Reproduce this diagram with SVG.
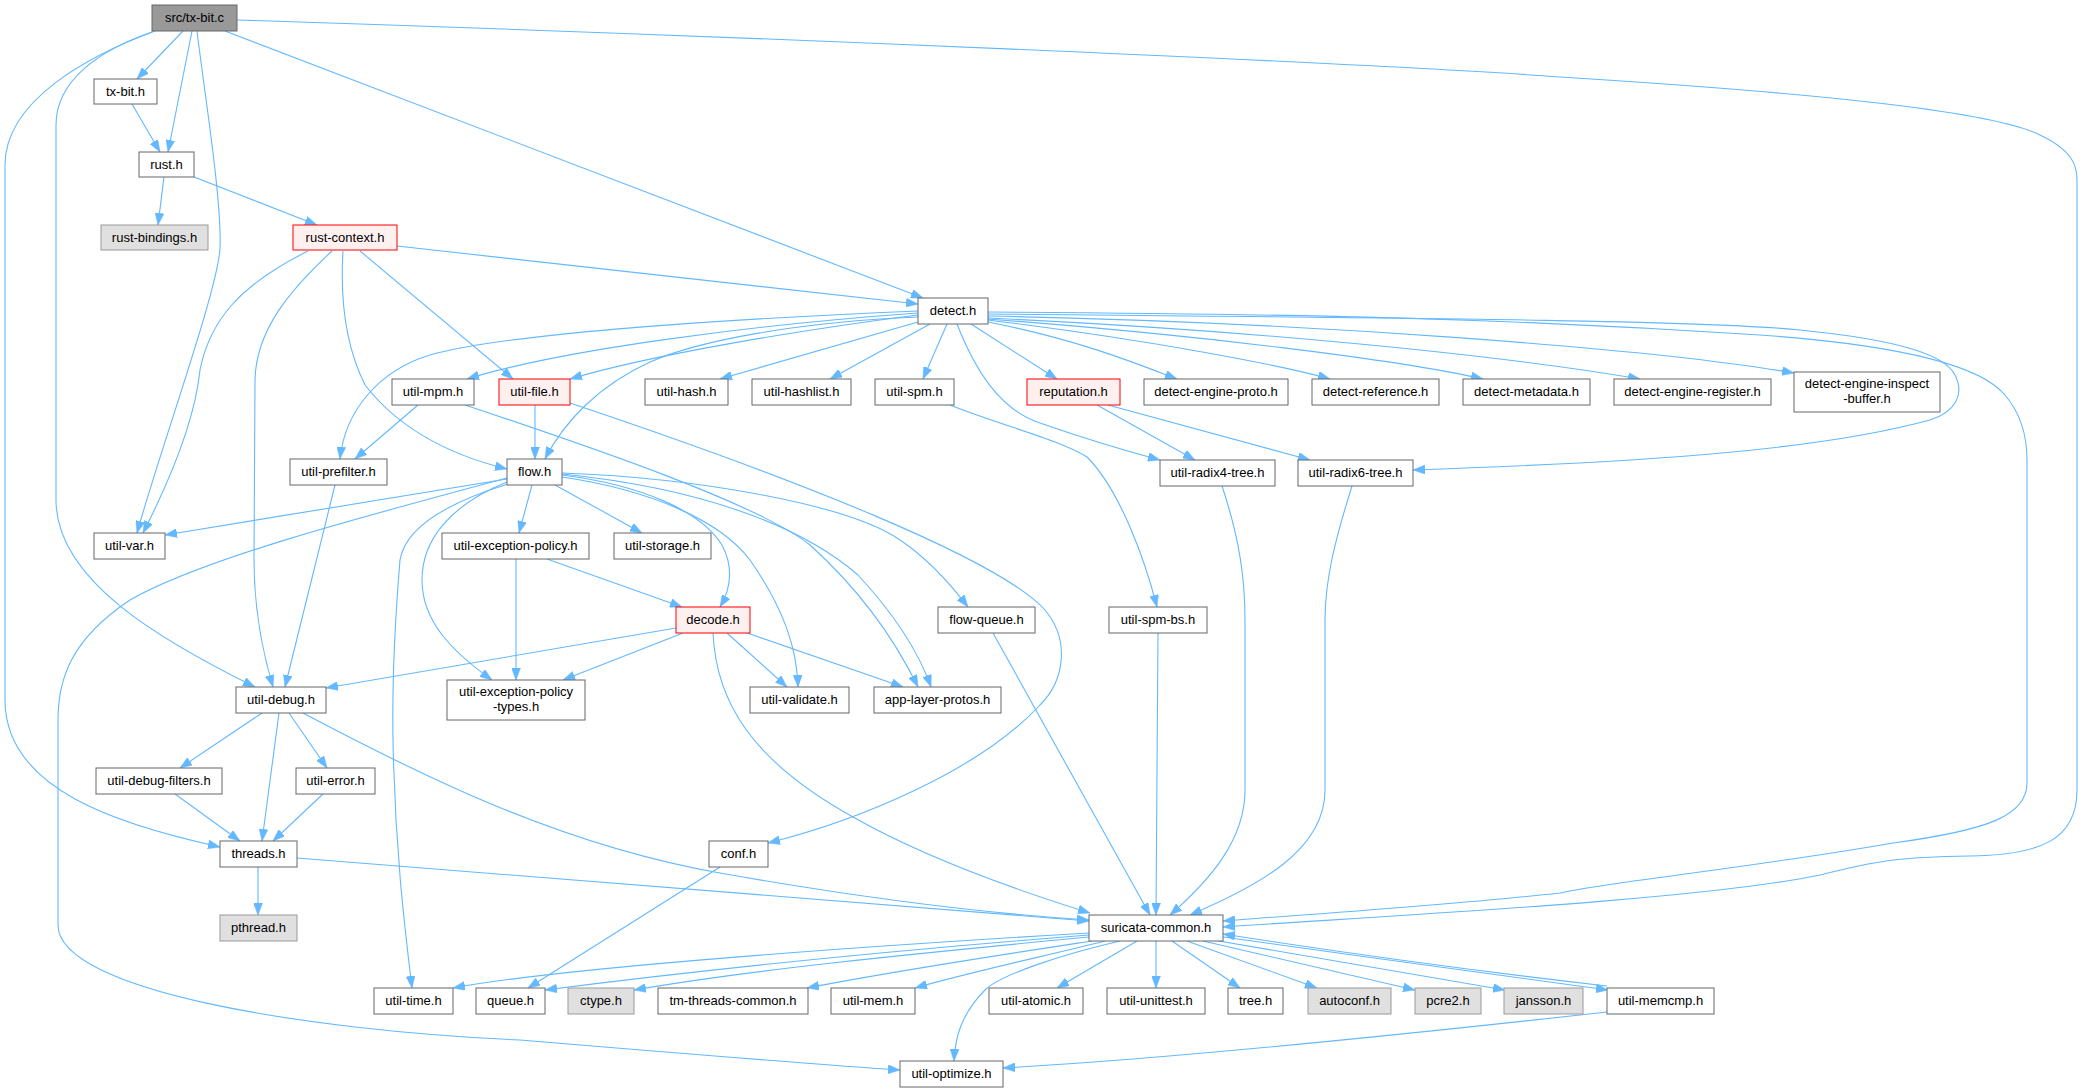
<svg xmlns="http://www.w3.org/2000/svg" width="2087" height="1092" viewBox="0 0 2087 1092">
<style>
rect{fill:#ffffff;stroke:#666666;stroke-width:1}
.g rect{fill:#e0e0e0;stroke:#999999}
.r rect{fill:#fff0f0;stroke:#ff0000}
.root rect{fill:#999999;stroke:#666666}
text{font-family:"Liberation Sans",Arial,Helvetica,sans-serif;font-size:13px;fill:#000000;text-anchor:middle}
#edges path{fill:none;stroke:#63b8ff;stroke-width:1.1;marker-end:url(#arr)}
</style>
<defs>
<marker id="arr" viewBox="0 0 12 9" markerWidth="12" markerHeight="9" refX="12" refY="4.5" orient="auto" markerUnits="userSpaceOnUse">
<path d="M0,0 L12,4.5 L0,9 Z" fill="#63b8ff" stroke="#63b8ff" stroke-width="0.5"/>
</marker>
</defs>
<rect x="0" y="0" width="2087" height="1092" style="fill:#ffffff;stroke:none"/>
<g id="edges">
<!-- src/tx-bit.c -->
<path d="M183,31 L137,79"/>
<path d="M192,31 L168,152"/>
<path d="M197,31 C204,90 222,200 220,248 C218,290 160,450 137,533"/>
<path d="M225,31 L923,298"/>
<path d="M237,20 C800,38 1400,65 1560,77 C1800,92 1990,110 2040,135 C2072,150 2077,165 2077,180 L2077,790 C2077,840 2040,855 1970,856 C1900,857 1880,860 1820,875 C1700,900 1400,915 1223,927"/>
<path d="M155,31 C90,55 5,100 5,165 L5,700 C5,790 120,825 220,847"/>
<path d="M152,32 C100,50 56,80 56,125 L56,500 C56,580 160,640 255,687"/>
<!-- tx-bit.h, rust.h -->
<path d="M132,104 L160,152"/>
<path d="M164,177 L158,225"/>
<path d="M194,177 L317,225"/>
<!-- rust-context.h -->
<path d="M397,246 L918,304"/>
<path d="M360,251 L513,379"/>
<path d="M343,251 C340,300 345,345 365,385 C400,430 450,455 507,469"/>
<path d="M332,251 C290,290 256,330 255,380 L254,560 C254,610 262,650 273,687"/>
<path d="M308,251 C240,285 210,320 200,370 C195,420 170,480 143,533"/>
<!-- detect.h -->
<path d="M918,311 C700,320 500,335 430,355 C380,370 345,410 340,459"/>
<path d="M918,313 C750,325 560,350 467,379"/>
<path d="M918,315 C800,330 650,355 570,379"/>
<path d="M918,317 C800,322 700,340 650,362 C600,385 565,420 545,459"/>
<path d="M918,322 L720,379"/>
<path d="M930,324 L830,379"/>
<path d="M947,324 L923,379"/>
<path d="M971,324 L1057,379"/>
<path d="M988,322 C1080,340 1140,365 1177,379"/>
<path d="M988,320 C1150,340 1280,365 1330,379"/>
<path d="M988,319 C1200,335 1400,360 1483,379"/>
<path d="M988,318 C1250,330 1500,355 1640,379"/>
<path d="M988,316 C1300,322 1650,348 1794,373"/>
<path d="M988,314 C1400,318 1700,320 1800,330 C1900,340 1945,355 1955,375 C1965,395 1955,412 1930,420 C1820,450 1650,462 1413,470"/>
<path d="M988,312 C1300,314 1500,318 1760,335 C1900,345 1980,365 2005,395 C2022,415 2027,440 2027,460 L2027,783 C2027,815 1990,830 1893,843 C1750,868 1600,883 1560,893 C1450,905 1300,915 1223,921"/>
<path d="M957,324 C975,370 1000,410 1040,423 C1080,437 1130,452 1160,460"/>
<!-- second level -->
<path d="M418,405 L355,459"/>
<path d="M465,405 C600,450 760,505 810,545 C860,590 895,640 918,687"/>
<path d="M535,405 L535,459"/>
<path d="M570,403 C800,480 1000,560 1045,610 C1070,640 1065,680 1040,705 C980,770 860,820 768,843"/>
<path d="M950,405 C1000,425 1060,440 1087,457 C1120,490 1145,560 1157,607"/>
<path d="M1097,405 L1195,460"/>
<path d="M1108,405 L1310,460"/>
<path d="M335,485 L285,687"/>
<!-- flow.h -->
<path d="M507,479 L165,535"/>
<path d="M532,485 L519,533"/>
<path d="M555,485 L642,533"/>
<path d="M562,475 C640,485 700,510 722,545 C735,570 730,590 720,607"/>
<path d="M562,477 C650,490 720,520 750,560 C785,610 797,650 798,687"/>
<path d="M562,474 C700,488 800,525 858,575 C895,615 918,650 931,687"/>
<path d="M562,473 C700,478 850,505 900,540 C930,560 955,590 968,607"/>
<path d="M507,482 C450,505 422,540 422,580 C422,620 450,650 492,680"/>
<path d="M508,484 C440,505 405,530 400,560 C395,620 392,680 393,740 C395,850 405,930 412,988"/>
<path d="M507,478 C350,520 200,560 130,600 C70,640 58,680 58,720 L58,925 C58,990 300,1030 520,1040 C700,1055 820,1065 900,1070"/>
<!-- util-exception-policy.h, decode.h -->
<path d="M547,559 L682,607"/>
<path d="M516,559 L516,680"/>
<path d="M676,628 L326,688"/>
<path d="M683,633 L563,680"/>
<path d="M727,633 L787,687"/>
<path d="M747,633 L903,687"/>
<path d="M713,633 C716,700 750,760 853,817 C920,855 1000,885 1090,913"/>
<!-- into suricata-common.h -->
<path d="M993,633 L1150,915"/>
<path d="M1158,633 L1156,915"/>
<path d="M1222,486 C1240,540 1245,580 1245,620 L1245,790 C1245,840 1210,880 1170,915"/>
<path d="M1352,486 C1335,540 1325,580 1325,620 L1325,790 C1325,850 1260,885 1190,915"/>
<!-- util-debug.h -->
<path d="M262,713 L180,768"/>
<path d="M279,713 L262,841"/>
<path d="M289,713 L327,768"/>
<path d="M303,713 C420,775 560,845 720,873 C850,896 980,913 1089,920"/>
<path d="M175,794 L240,841"/>
<path d="M323,794 L273,841"/>
<path d="M258,867 L258,915"/>
<path d="M297,858 L1089,921"/>
<path d="M720,867 L528,988"/>
<!-- suricata-common.h out -->
<path d="M1089,933 C800,950 550,970 453,988"/>
<path d="M1089,935 C900,950 700,970 545,990"/>
<path d="M1089,937 C900,955 750,970 634,990"/>
<path d="M1092,941 C1000,955 900,970 807,988"/>
<path d="M1105,941 C1050,955 970,972 915,988"/>
<path d="M1120,941 C1060,955 1000,975 985,990 C960,1015 955,1040 954,1061"/>
<path d="M1137,941 L1057,988"/>
<path d="M1156,941 L1156,988"/>
<path d="M1172,941 L1240,988"/>
<path d="M1187,941 L1317,988"/>
<path d="M1203,941 L1415,990"/>
<path d="M1213,940 L1505,990"/>
<path d="M1223,937 C1350,955 1500,975 1608,990"/>
<path d="M1607,986 C1450,968 1300,946 1223,934"/>
<path d="M1607,1012 C1400,1035 1150,1060 1003,1068"/>
</g>
<g id="n_src" class="root"><rect x="152" y="5" width="85" height="26"/><text x="194.5" y="22.3">src/tx-bit.c</text></g>
<g id="n_txbit"><rect x="94" y="79" width="63" height="25"/><text x="125.5" y="95.8">tx-bit.h</text></g>
<g id="n_rust"><rect x="139" y="152" width="55" height="25"/><text x="166.5" y="168.8">rust.h</text></g>
<g id="n_rustbindings" class="g"><rect x="101" y="225" width="107" height="25"/><text x="154.5" y="241.8">rust-bindings.h</text></g>
<g id="n_rustcontext" class="r"><rect x="293" y="225" width="104" height="25"/><text x="345" y="241.8">rust-context.h</text></g>
<g id="n_detect"><rect x="918" y="298" width="70" height="26"/><text x="953" y="315.3">detect.h</text></g>
<g id="n_utilmpm"><rect x="392" y="379" width="82" height="26"/><text x="433" y="396.3">util-mpm.h</text></g>
<g id="n_utilfile" class="r"><rect x="499" y="379" width="71" height="26"/><text x="534.5" y="396.3">util-file.h</text></g>
<g id="n_utilhash"><rect x="645" y="379" width="83" height="26"/><text x="686.5" y="396.3">util-hash.h</text></g>
<g id="n_utilhashlist"><rect x="752" y="379" width="99" height="26"/><text x="801.5" y="396.3">util-hashlist.h</text></g>
<g id="n_utilspm"><rect x="875" y="379" width="79" height="26"/><text x="914.5" y="396.3">util-spm.h</text></g>
<g id="n_reputation" class="r"><rect x="1027" y="379" width="93" height="26"/><text x="1073.5" y="396.3">reputation.h</text></g>
<g id="n_dep"><rect x="1144" y="379" width="144" height="26"/><text x="1216" y="396.3">detect-engine-proto.h</text></g>
<g id="n_dref"><rect x="1312" y="379" width="127" height="26"/><text x="1375.5" y="396.3">detect-reference.h</text></g>
<g id="n_dmeta"><rect x="1463" y="379" width="127" height="26"/><text x="1526.5" y="396.3">detect-metadata.h</text></g>
<g id="n_dreg"><rect x="1614" y="379" width="157" height="26"/><text x="1692.5" y="396.3">detect-engine-register.h</text></g>
<g id="n_dinsp"><rect x="1794" y="372" width="146" height="40"/><text x="1867" y="388.3">detect-engine-inspect</text><text x="1867" y="402.7">-buffer.h</text></g>
<g id="n_prefilter"><rect x="290" y="459" width="97" height="26"/><text x="338.5" y="476.3">util-prefilter.h</text></g>
<g id="n_flow"><rect x="507" y="459" width="55" height="26"/><text x="534.5" y="476.3">flow.h</text></g>
<g id="n_radix4"><rect x="1160" y="460" width="115" height="26"/><text x="1217.5" y="477.3">util-radix4-tree.h</text></g>
<g id="n_radix6"><rect x="1298" y="460" width="115" height="26"/><text x="1355.5" y="477.3">util-radix6-tree.h</text></g>
<g id="n_utilvar"><rect x="94" y="533" width="71" height="26"/><text x="129.5" y="550.3">util-var.h</text></g>
<g id="n_uep"><rect x="442" y="533" width="147" height="26"/><text x="515.5" y="550.3">util-exception-policy.h</text></g>
<g id="n_storage"><rect x="614" y="533" width="97" height="26"/><text x="662.5" y="550.3">util-storage.h</text></g>
<g id="n_decode" class="r"><rect x="676" y="607" width="74" height="26"/><text x="713" y="624.3">decode.h</text></g>
<g id="n_flowqueue"><rect x="938" y="607" width="97" height="26"/><text x="986.5" y="624.3">flow-queue.h</text></g>
<g id="n_spmbs"><rect x="1109" y="607" width="98" height="26"/><text x="1158" y="624.3">util-spm-bs.h</text></g>
<g id="n_udebug"><rect x="236" y="687" width="90" height="26"/><text x="281" y="704.3">util-debug.h</text></g>
<g id="n_ueptypes"><rect x="447" y="680" width="138" height="40"/><text x="516" y="696.3">util-exception-policy</text><text x="516" y="710.7">-types.h</text></g>
<g id="n_validate"><rect x="750" y="687" width="99" height="26"/><text x="799.5" y="704.3">util-validate.h</text></g>
<g id="n_alp"><rect x="874" y="687" width="127" height="26"/><text x="937.5" y="704.3">app-layer-protos.h</text></g>
<g id="n_udf"><rect x="96" y="768" width="126" height="26"/><text x="159" y="785.3">util-debug-filters.h</text></g>
<g id="n_uerror"><rect x="296" y="768" width="79" height="26"/><text x="335.5" y="785.3">util-error.h</text></g>
<g id="n_threads"><rect x="220" y="841" width="77" height="26"/><text x="258.5" y="858.3">threads.h</text></g>
<g id="n_conf"><rect x="709" y="841" width="59" height="26"/><text x="738.5" y="858.3">conf.h</text></g>
<g id="n_pthread" class="g"><rect x="220" y="915" width="77" height="26"/><text x="258.5" y="932.3">pthread.h</text></g>
<g id="n_sc"><rect x="1089" y="915" width="134" height="26"/><text x="1156" y="932.3">suricata-common.h</text></g>
<g id="n_utime"><rect x="374" y="988" width="79" height="26"/><text x="413.5" y="1005.3">util-time.h</text></g>
<g id="n_queue"><rect x="476" y="988" width="69" height="26"/><text x="510.5" y="1005.3">queue.h</text></g>
<g id="n_ctype" class="g"><rect x="568" y="988" width="66" height="26"/><text x="601" y="1005.3">ctype.h</text></g>
<g id="n_tmtc"><rect x="658" y="988" width="150" height="26"/><text x="733" y="1005.3">tm-threads-common.h</text></g>
<g id="n_umem"><rect x="831" y="988" width="84" height="26"/><text x="873" y="1005.3">util-mem.h</text></g>
<g id="n_uatomic"><rect x="989" y="988" width="94" height="26"/><text x="1036" y="1005.3">util-atomic.h</text></g>
<g id="n_uunittest"><rect x="1107" y="988" width="98" height="26"/><text x="1156" y="1005.3">util-unittest.h</text></g>
<g id="n_tree"><rect x="1228" y="988" width="55" height="26"/><text x="1255.5" y="1005.3">tree.h</text></g>
<g id="n_autoconf" class="g"><rect x="1308" y="988" width="83" height="26"/><text x="1349.5" y="1005.3">autoconf.h</text></g>
<g id="n_pcre2" class="g"><rect x="1415" y="988" width="66" height="26"/><text x="1448" y="1005.3">pcre2.h</text></g>
<g id="n_jansson" class="g"><rect x="1504" y="988" width="79" height="26"/><text x="1543.5" y="1005.3">jansson.h</text></g>
<g id="n_umemcmp"><rect x="1607" y="988" width="107" height="26"/><text x="1660.5" y="1005.3">util-memcmp.h</text></g>
<g id="n_uopt"><rect x="900" y="1061" width="103" height="26"/><text x="951.5" y="1078.3">util-optimize.h</text></g>
</svg>
